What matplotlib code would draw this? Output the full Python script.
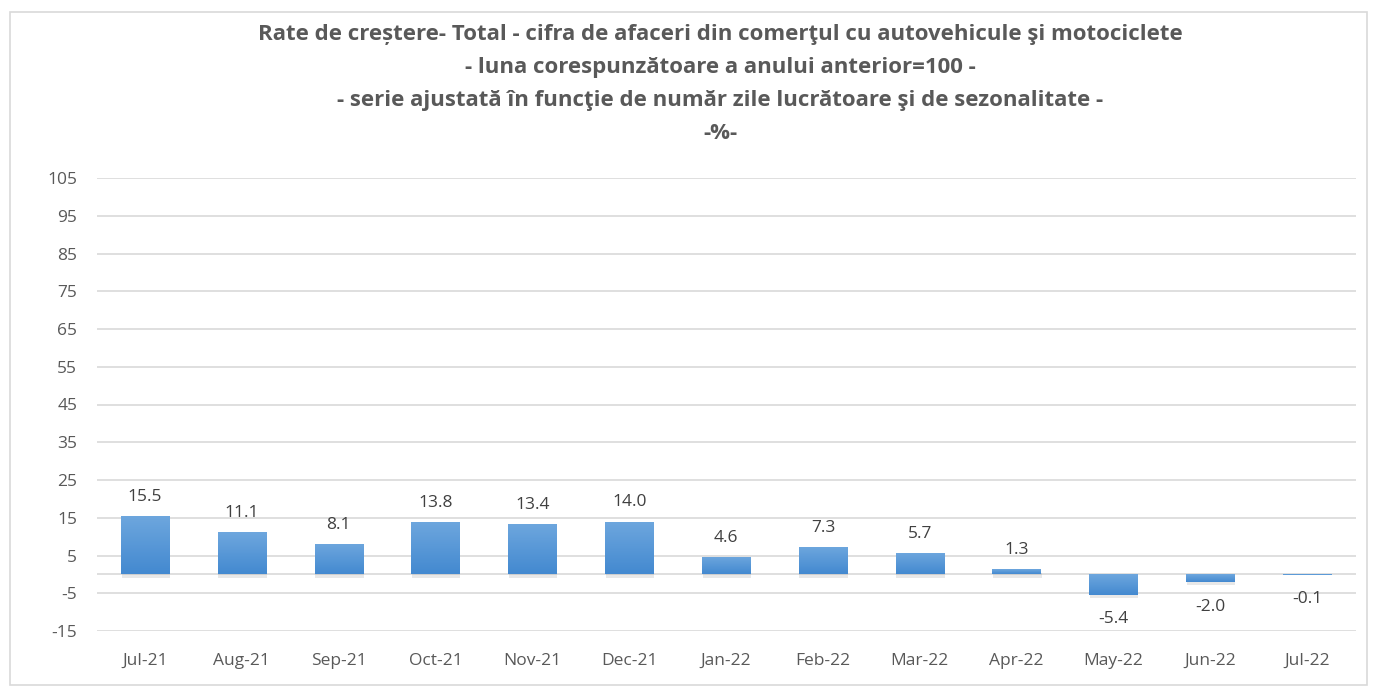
import matplotlib
matplotlib.use("Agg")
import matplotlib.pyplot as plt
import matplotlib.patheffects as pe
from matplotlib.patches import Rectangle
from matplotlib.colors import LinearSegmentedColormap
import numpy as np

categories = ["Jul-21", "Aug-21", "Sep-21", "Oct-21", "Nov-21", "Dec-21", "Jan-22",
              "Feb-22", "Mar-22", "Apr-22", "May-22", "Jun-22", "Jul-22"]
values = [15.5, 11.1, 8.1, 13.8, 13.4, 14.0, 4.6, 7.3, 5.7, 1.3, -5.4, -2.0, -0.1]
yticks = [-15, -5, 5, 15, 25, 35, 45, 55, 65, 75, 85, 95, 105]
title = ("Rate de creștere- Total - cifra de afaceri din comerţul cu autovehicule şi motociclete\n"
         "- luna corespunzătoare a anului anterior=100 -\n"
         "- serie ajustată în funcţie de număr zile lucrătoare şi de sezonalitate -\n"
         "-%-")

plt.rcParams['font.family'] = ['Open Sans', 'DejaVu Sans']
plt.rcParams['axes.unicode_minus'] = False

fig = plt.figure(figsize=(13.75, 6.88), dpi=100)
fig.patches.append(Rectangle((10/1375, 3/688), 1357/1375, 673/688, transform=fig.transFigure,
                             fill=False, edgecolor="#d9d9d9", linewidth=1.2))
ax = fig.add_axes([96.6/1375, 1 - 631/688, (1355.6 - 96.6)/1375, (631 - 178)/688])

x = np.arange(len(categories))
bars = ax.bar(x, values, width=0.5, color="#5b9bd5", zorder=3,
              path_effects=[pe.SimplePatchShadow(offset=(0.5, -2.5), shadow_rgbFace="#808080", alpha=0.18),
                            pe.Normal()])

grad = np.linspace(0, 1, 256).reshape(-1, 1)
cmap = LinearSegmentedColormap.from_list("g", ["#4389d0", "#6ea7de"])
for b in bars:
    x0, w = b.get_x(), b.get_width()
    y0, h = b.get_y(), b.get_height()
    lo, hi = min(y0, y0 + h), max(y0, y0 + h)
    if hi - lo <= 0:
        continue
    im = ax.imshow(grad, extent=[x0, x0 + w, lo, hi], origin="lower", aspect="auto",
                   cmap=cmap, zorder=3.5, interpolation="bilinear")
    im.set_clip_path(b)

ax.set_xlim(-0.5, len(categories) - 0.5)
ax.set_ylim(-15, 105)
ax.set_yticks(yticks)
ax.set_xticks(x)
ax.set_xticklabels(categories)
ax.yaxis.grid(True, color="#d9d9d9", linewidth=1.2, zorder=0)
ax.axhline(0, color="#d9d9d9", linewidth=1.2, zorder=1)
for s in ax.spines.values():
    s.set_visible(False)
ax.tick_params(axis="both", length=0, labelsize=12.5, colors="#595959")
ax.tick_params(axis="x", pad=16)
ax.tick_params(axis="y", pad=14)
ax.set_axisbelow(True)

for xi, v in zip(x, values):
    if v >= 0:
        ax.annotate(f"{v:.1f}", (xi, v), xytext=(0, 8), textcoords="offset points",
                    ha="center", va="bottom", fontsize=12.5, color="#404040")
    else:
        ax.annotate(f"{v:.1f}", (xi, v), xytext=(0, -12), textcoords="offset points",
                    ha="center", va="top", fontsize=12.5, color="#404040")

fig.text(720/1375, 1 - 24/688, title, ha="center", va="top", fontsize=16, fontweight="bold",
         color="#595959", linespacing=1.76)

fig.savefig("out.png", dpi=100)
